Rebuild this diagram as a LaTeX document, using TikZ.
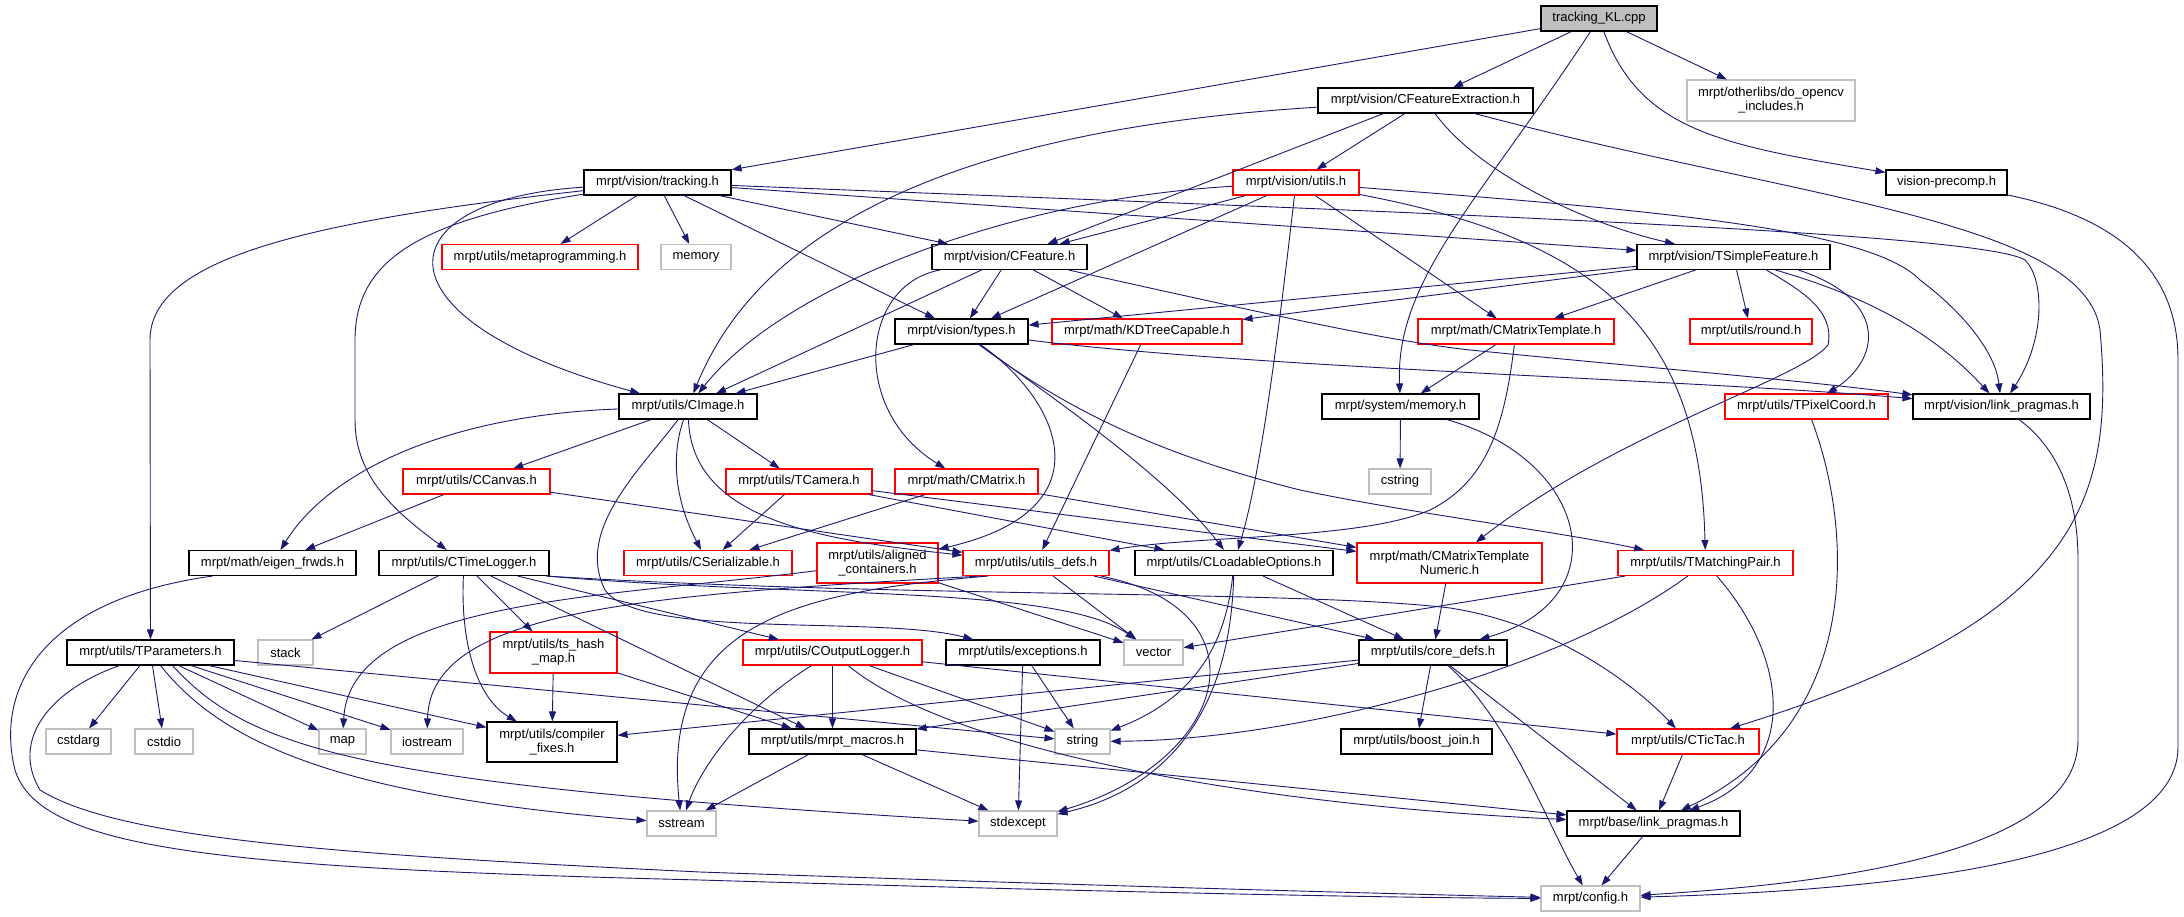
\documentclass[tikz,border=0pt]{standalone}
\usepackage{fontspec}
\setmainfont{Liberation Sans}
\usetikzlibrary{arrows.meta}
\definecolor{edgeblue}{HTML}{191970}
\definecolor{sysgray}{HTML}{BFBFBF}

\begin{document}
\begin{tikzpicture}[x=1pt, y=-1pt,
    >={Triangle[length=10pt,width=7pt]},
    hdr/.style={draw=black, fill=white, line width=1.1pt, minimum height=25pt, inner sep=2pt, font=\fontsize{13}{14}\selectfont},
    redhdr/.style={hdr, draw=red},
    syshdr/.style={hdr, draw=sysgray},
    srcfile/.style={hdr, fill=sysgray},
    incl/.style={->, color=edgeblue, line width=0.9pt}]
    \useasboundingbox (0,0) rectangle (2184,917);

    \node[srcfile, minimum width=116] (kl) at (1599,18.5) {tracking\_KL.cpp};
    \node[hdr, minimum width=215] (cfe) at (1425.5,100.5) {mrpt/vision/CFeatureExtraction.h};
    \node[syshdr, minimum width=168, minimum height=41, align=center] (ocv) at (1771,100.5) {mrpt/otherlibs/do\_opencv\\\_includes.h};
    \node[hdr, minimum width=147] (trk) at (657.5,182.5) {mrpt/vision/tracking.h};
    \node[redhdr, minimum width=126] (vutl) at (1296,182.5) {mrpt/vision/utils.h};
    \node[hdr, minimum width=121] (vpc) at (1946.5,182.5) {vision-precomp.h};
    \node[redhdr, minimum width=196] (meta) at (540,257) {mrpt/utils/metaprogramming.h};
    \node[syshdr, minimum width=70] (memory) at (696,257) {memory};
    \node[hdr, minimum width=155] (cfeat) at (1009.5,257) {mrpt/vision/CFeature.h};
    \node[hdr, minimum width=193] (tsf) at (1733.5,257) {mrpt/vision/TSimpleFeature.h};
    \node[hdr, minimum width=133] (types) at (961.5,331.5) {mrpt/vision/types.h};
    \node[redhdr, minimum width=190] (kdt) at (1147,331.5) {mrpt/math/KDTreeCapable.h};
    \node[redhdr, minimum width=196] (cmt) at (1516,331.5) {mrpt/math/CMatrixTemplate.h};
    \node[redhdr, minimum width=122] (round) at (1751,331.5) {mrpt/utils/round.h};
    \node[hdr, minimum width=138] (cimg) at (688,406.5) {mrpt/utils/CImage.h};
    \node[hdr, minimum width=157] (smem) at (1400.5,406.5) {mrpt/system/memory.h};
    \node[redhdr, minimum width=163] (tpix) at (1806.5,406.5) {mrpt/utils/TPixelCoord.h};
    \node[hdr, minimum width=177] (vlp) at (2001.5,406.5) {mrpt/vision/link\_pragmas.h};
    \node[redhdr, minimum width=147] (canvas) at (476.5,481.5) {mrpt/utils/CCanvas.h};
    \node[redhdr, minimum width=146] (tcam) at (799,481.5) {mrpt/utils/TCamera.h};
    \node[redhdr, minimum width=143] (cmat) at (966.5,481.5) {mrpt/math/CMatrix.h};
    \node[syshdr, minimum width=62] (cstring) at (1400,481.5) {cstring};
    \node[hdr, minimum width=167] (eigen) at (272.5,563) {mrpt/math/eigen\_frwds.h};
    \node[hdr, minimum width=170] (ctl) at (464,563) {mrpt/utils/CTimeLogger.h};
    \node[redhdr, minimum width=168] (cser) at (708,563) {mrpt/utils/CSerializable.h};
    \node[redhdr, minimum width=121, minimum height=40, align=center] (algn) at (877.5,563) {mrpt/utils/aligned\\\_containers.h};
    \node[redhdr, minimum width=146] (udefs) at (1036,563) {mrpt/utils/utils\_defs.h};
    \node[hdr, minimum width=198] (clo) at (1234,563) {mrpt/utils/CLoadableOptions.h};
    \node[redhdr, minimum width=185, minimum height=40, align=center] (cmtn) at (1449.5,563) {mrpt/math/CMatrixTemplate\\Numeric.h};
    \node[redhdr, minimum width=175] (tmp) at (1705.5,563) {mrpt/utils/TMatchingPair.h};
    \node[hdr, minimum width=167] (tpar) at (150.5,652.5) {mrpt/utils/TParameters.h};
    \node[syshdr, minimum width=55] (stack) at (285.5,652.5) {stack};
    \node[redhdr, minimum width=127, minimum height=41, align=center] (tshm) at (553.5,652.5) {mrpt/utils/ts\_hash\\\_map.h};
    \node[redhdr, minimum width=179] (cout) at (832.5,652.5) {mrpt/utils/COutputLogger.h};
    \node[hdr, minimum width=154] (exc) at (1023,652.5) {mrpt/utils/exceptions.h};
    \node[syshdr, minimum width=59] (vector) at (1153.5,652.5) {vector};
    \node[hdr, minimum width=148] (core) at (1433,652.5) {mrpt/utils/core\_defs.h};
    \node[syshdr, minimum width=65] (cstdarg) at (78.5,741.5) {cstdarg};
    \node[syshdr, minimum width=58] (cstdio) at (164,741.5) {cstdio};
    \node[syshdr, minimum width=47] (map) at (342.5,741.5) {map};
    \node[syshdr, minimum width=72] (iostream) at (427,741.5) {iostream};
    \node[hdr, minimum width=130, minimum height=40, align=center] (cfix) at (552,742) {mrpt/utils/compiler\\\_fixes.h};
    \node[hdr, minimum width=167] (macros) at (832.5,741.5) {mrpt/utils/mrpt\_macros.h};
    \node[syshdr, minimum width=55] (string) at (1082.5,741.5) {string};
    \node[hdr, minimum width=151] (bjoin) at (1416.5,741.5) {mrpt/utils/boost\_join.h};
    \node[redhdr, minimum width=142] (tictac) at (1688,741.5) {mrpt/utils/CTicTac.h};
    \node[syshdr, minimum width=69] (sstream) at (681.5,823.5) {sstream};
    \node[syshdr, minimum width=78] (stdexc) at (1018,823.5) {stdexcept};
    \node[hdr, minimum width=173] (blp) at (1653.5,823.5) {mrpt/base/link\_pragmas.h};
    \node[syshdr, minimum width=99] (config) at (1590.5,898.5) {mrpt/config.h};

    \draw[incl] (kl) -- (trk);
    \draw[incl] (kl) -- (cfe);
    \draw[incl] (kl) -- (ocv);
    \draw[incl] (kl) .. controls (1480,200) and (1395,280) .. (smem);
    \draw[incl] (kl) .. controls (1640,130) and (1720,145) .. (vpc);
    \draw[incl] (cfe) -- (vutl);
    \draw[incl] ([xshift=-42]cfe.south) -- ([xshift=38]cfeat.north);
    \draw[incl] (cfe) .. controls (950,130) and (760,230) .. (cimg);
    \draw[incl] (cfe) .. controls (1480,175) and (1590,225) .. (tsf);
    \draw[incl] (cfe) .. controls (1800,200) and (2085,220) .. (2100,330) .. controls (2115,500) and (2080,620) .. (tictac);
    \draw[incl] (trk) -- (meta);
    \draw[incl] (trk) -- (memory);
    \draw[incl] (trk) -- (cfeat);
    \draw[incl] (trk) -- (types);
    \draw[incl] (trk) -- (tsf);
    \draw[incl] (trk) .. controls (380,200) and (370,320) .. (cimg);
    \draw[incl] (trk) .. controls (420,220) and (355,260) .. (355,340) -- (355,420) .. controls (355,480) and (400,515) .. (ctl);
    \draw[incl] (trk) .. controls (300,222) and (150,260) .. (150,340) -- (tpar);
    \draw[incl] (trk) .. controls (1400,212) and (1980,232) .. (2025,260) .. controls (2045,280) and (2045,340) .. (vlp);
    \draw[incl] (vutl) -- (cfeat);
    \draw[incl] (vutl) -- (types);
    \draw[incl] (vutl) -- (cmt);
    \draw[incl] (vutl) .. controls (1000,200) and (780,290) .. (cimg);
    \draw[incl] (vutl) .. controls (1280,320) and (1262,470) .. (clo);
    \draw[incl] (vutl) .. controls (1600,240) and (1700,330) .. (tmp);
    \draw[incl] (vutl) .. controls (1650,210) and (1870,228) .. (1920,280) .. controls (1960,310) and (1995,350) .. (vlp);
    \draw[incl] (cfeat) -- (cimg);
    \draw[incl] (cfeat) -- (types);
    \draw[incl] (cfeat) -- (kdt);
    \draw[incl] (cfeat) .. controls (860,285) and (850,410) .. (cmat);
    \draw[incl] (cfeat) .. controls (1250,310) and (1380,340) .. (1470,350) .. controls (1650,368) and (1800,380) .. (vlp);
    \draw[incl] (types) -- (cimg);
    \draw[incl] (types) .. controls (1250,368) and (1700,380) .. (vlp);
    \draw[incl] (types) .. controls (1060,400) and (1110,510) .. (algn);
    \draw[incl] (types) .. controls (1070,410) and (1170,480) .. (clo);
    \draw[incl] (types) .. controls (1080,420) and (1180,460) .. (1300,490) .. controls (1420,515) and (1550,530) .. (tmp);
    \draw[incl] (kdt) -- (udefs);
    \draw[incl] (tsf) -- (types);
    \draw[incl] (tsf) -- (kdt);
    \draw[incl] (tsf) -- (cmt);
    \draw[incl] (tsf) -- (round);
    \draw[incl] ([xshift=33]tsf.south) .. controls (1800,290) and (1835,310) .. (1828,345) .. controls (1800,380) and (1620,430) .. (cmtn);
    \draw[incl] ([xshift=42]tsf.south) .. controls (1880,300) and (1940,340) .. (vlp);
    \draw[incl] ([xshift=65]tsf.south) .. controls (1890,300) and (1880,360) .. (tpix);
    \draw[incl] (cmt) -- (smem);
    \draw[incl] (cmt) .. controls (1505,420) and (1490,480) .. (1430,510) .. controls (1360,540) and (1200,535) .. (udefs);
    \draw[incl] (smem) -- (cstring);
    \draw[incl] (smem) .. controls (1590,460) and (1620,600) .. (core);
    \draw[incl] (tpix) .. controls (1850,520) and (1870,720) .. (blp);
    \draw[incl] (vlp) .. controls (2060,450) and (2078,500) .. (2078,560) -- (2078,740) .. controls (2078,860) and (1800,885) .. (config);
    \draw[incl] (vpc) .. controls (2130,220) and (2178,280) .. (2178,360) -- (2178,747) .. controls (2178,860) and (1900,890) .. (config);
    \draw[incl] (cimg) -- (canvas);
    \draw[incl] (cimg) -- (tcam);
    \draw[incl] (cimg) .. controls (450,415) and (330,470) .. (eigen);
    \draw[incl] (cimg) .. controls (668,465) and (680,510) .. (cser);
    \draw[incl] (cimg) .. controls (692,520) and (820,540) .. (udefs);
    \draw[incl] (cimg) .. controls (640,470) and (575,530) .. (605,590) .. controls (640,640) and (880,615) .. (exc);
    \draw[incl] (canvas) -- (eigen);
    \draw[incl] (canvas) -- (udefs);
    \draw[incl] (tcam) -- (cser);
    \draw[incl] (tcam) -- (clo);
    \draw[incl] (tcam) -- (cmtn);
    \draw[incl] (cmat) -- (cser);
    \draw[incl] (cmat) -- (cmtn);
    \draw[incl] ([xshift=-60]eigen.south) .. controls (40,600) and (-5,690) .. (15,770) .. controls (40,850) and (220,868) .. (700,880) .. controls (1100,892) and (1400,898) .. (config);
    \draw[incl] (ctl) -- (stack);
    \draw[incl] (ctl) -- (tshm);
    \draw[incl] (ctl) -- (macros);
    \draw[incl] (ctl) -- (cout);
    \draw[incl] (ctl) .. controls (460,650) and (480,700) .. (cfix);
    \draw[incl] ([xshift=-3]ctl.south east) .. controls (800,598) and (1060,585) .. (vector);
    \draw[incl] ([xshift=-3]ctl.south east) .. controls (900,598) and (1300,590) .. (1450,608) .. controls (1560,625) and (1640,690) .. (tictac);
    \draw[incl] (algn) -- (vector);
    \draw[incl] (algn) .. controls (600,598) and (350,600) .. (map);
    \draw[incl] (udefs) -- (vector);
    \draw[incl] (udefs) -- (core);
    \draw[incl] ([xshift=-48]udefs.south) .. controls (800,592) and (660,620) .. (sstream);
    \draw[incl] ([xshift=-55]udefs.south) .. controls (640,595) and (430,610) .. (iostream);
    \draw[incl] (udefs) .. controls (1270,610) and (1230,760) .. (stdexc);
    \draw[incl] (clo) -- (core);
    \draw[incl] (clo) .. controls (1225,650) and (1190,700) .. (string);
    \draw[incl] (clo) .. controls (1230,720) and (1160,790) .. (stdexc);
    \draw[incl] (cmtn) -- (core);
    \draw[incl] (tmp) -- (vector);
    \draw[incl] (tmp) .. controls (1560,670) and (1300,740) .. (string);
    \draw[incl] (tmp) .. controls (1790,660) and (1800,770) .. (blp);
    \draw[incl] (tpar) -- (cstdarg);
    \draw[incl] (tpar) -- (cstdio);
    \draw[incl] (tpar) -- (map);
    \draw[incl] (tpar) -- (iostream);
    \draw[incl] (tpar) -- (cfix);
    \draw[incl] (tpar) -- (string);
    \draw[incl] ([xshift=10]tpar.south) .. controls (220,740) and (330,795) .. (sstream);
    \draw[incl] ([xshift=22]tpar.south) .. controls (250,750) and (360,785) .. (stdexc);
    \draw[incl] ([xshift=-31]tpar.south) .. controls (50,690) and (10,740) .. (40,790) .. controls (120,840) and (350,855) .. (700,872) .. controls (1100,886) and (1400,894) .. (config);
    \draw[incl] (tshm) -- (cfix);
    \draw[incl] (tshm) -- (macros);
    \draw[incl] (cout) -- (macros);
    \draw[incl] (cout) -- (string);
    \draw[incl] (cout) -- (tictac);
    \draw[incl] (cout) .. controls (740,710) and (700,770) .. (sstream);
    \draw[incl] (cout) .. controls (950,750) and (1250,805) .. (blp);
    \draw[incl] (exc) -- (string);
    \draw[incl] (exc) -- (stdexc);
    \draw[incl] (core) -- (cfix);
    \draw[incl] (core) -- (macros);
    \draw[incl] (core) -- (bjoin);
    \draw[incl] (core) -- (blp);
    \draw[incl] (core) .. controls (1510,720) and (1550,830) .. (config);
    \draw[incl] (macros) -- (sstream);
    \draw[incl] (macros) -- (stdexc);
    \draw[incl] (macros) -- (blp);
    \draw[incl] (tictac) -- (blp);
    \draw[incl] (blp) -- (config);
\end{tikzpicture}
\end{document}
